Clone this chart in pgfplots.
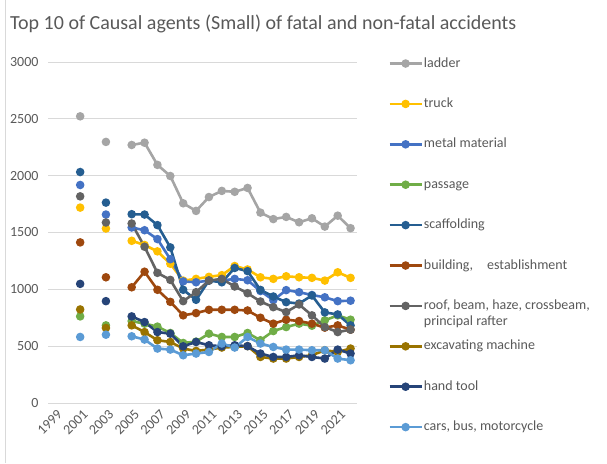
\documentclass[border=0pt]{standalone}
\usepackage{pgfplots}
\pgfplotsset{compat=1.18}
\usepackage{fontspec}
\setmainfont{Carlito}
\definecolor{tx}{HTML}{595959}
\definecolor{gridc}{HTML}{D9D9D9}
\definecolor{cLadder}{HTML}{A5A5A5}
\definecolor{cTruck}{HTML}{FFC000}
\definecolor{cMetal}{HTML}{4472C4}
\definecolor{cPassage}{HTML}{70AD47}
\definecolor{cScaff}{HTML}{255E91}
\definecolor{cBuild}{HTML}{9E480E}
\definecolor{cRoof}{HTML}{636363}
\definecolor{cExc}{HTML}{997300}
\definecolor{cHand}{HTML}{264478}
\definecolor{cCars}{HTML}{5B9BD5}
\begin{document}
\begin{tikzpicture}[x=1pt,y=1pt]
\path[use as bounding box] (0,0) rectangle (607,463);
\draw[color=gridc, line width=0.75pt] (5.5,0) -- (5.5,463);
\node[anchor=base west, inner sep=0pt, font=\fontsize{20}{24}\selectfont, text=tx] at (10,433) {Top 10 of Causal agents (Small) of fatal and non-fatal accidents};
\begin{axis}[
  at={(48pt,60pt)}, anchor=south west,
  width=309pt, height=341pt, scale only axis,
  xmin=1998.5, xmax=2022.5, ymin=0, ymax=3000,
  xtick={1999,2001,...,2021}, ytick={0,500,...,3000},
  axis line style={draw=none}, tick style={draw=none},
  ymajorgrids, grid style={color=gridc, line width=0.75pt},
  unbounded coords=jump,
  /pgf/number format/assume math mode=true,
  /pgf/number format/1000 sep={},
  ticklabel style={font=\fontsize{14}{17}\selectfont, text=tx},
  yticklabel style={xshift=-6pt},
  xticklabel style={rotate=45, anchor=east, xshift=1pt, yshift=-10pt},
  every axis plot/.append style={line width=2.6pt, mark=*, mark size=2.9pt, mark options={solid}},
  legend image code/.code={\draw[mark repeat=2,mark phase=2,#1] plot coordinates {(0pt,0pt) (16pt,0pt) (32pt,0pt)};},
  legend cell align=left,
  legend style={at={(1.091,1.024)}, anchor=north west, draw=none, fill=none,
    font=\fontsize{14}{16}\selectfont, text=tx, row sep=25.4pt,
    nodes={inner sep=1pt, text height=10pt, text depth=3pt}},
]
\addplot[color=cLadder] coordinates {(2001,2522)(2002,nan)(2003,2297)(2004,nan)(2005,2270)(2006,2290)(2007,2095)(2008,1997)(2009,1757)(2010,1690)(2011,1812)(2012,1866)(2013,1858)(2014,1892)(2015,1675)(2016,1618)(2017,1637)(2018,1590)(2019,1625)(2020,1552)(2021,1648)(2022,1538)};
\addlegendentry{ladder}
\addplot[color=cTruck] coordinates {(2001,1719)(2002,nan)(2003,1535)(2004,nan)(2005,1427)(2006,1390)(2007,1334)(2008,1225)(2009,1077)(2010,1092)(2011,1110)(2012,1125)(2013,1205)(2014,1175)(2015,1106)(2016,1092)(2017,1115)(2018,1106)(2019,1101)(2020,1077)(2021,1150)(2022,1101)};
\addlegendentry{truck}
\addplot[color=cMetal] coordinates {(2001,1918)(2002,nan)(2003,1658)(2004,nan)(2005,1544)(2006,1520)(2007,1442)(2008,1265)(2009,1070)(2010,1062)(2011,1077)(2012,1077)(2013,1092)(2014,1080)(2015,985)(2016,905)(2017,993)(2018,975)(2019,950)(2020,930)(2021,896)(2022,900)};
\addlegendentry{metal material}
\addplot[color=cPassage] coordinates {(2001,762)(2002,nan)(2003,683)(2004,nan)(2005,721)(2006,698)(2007,672)(2008,616)(2009,528)(2010,540)(2011,610)(2012,581)(2013,581)(2014,616)(2015,552)(2016,633)(2017,668)(2018,698)(2019,680)(2020,727)(2021,771)(2022,733)};
\addlegendentry{passage}
\addplot[color=cScaff] coordinates {(2001,2032)(2002,nan)(2003,1763)(2004,nan)(2005,1661)(2006,1658)(2007,1565)(2008,1369)(2009,996)(2010,908)(2011,1077)(2012,1062)(2013,1188)(2014,1160)(2015,995)(2016,937)(2017,887)(2018,875)(2019,946)(2020,797)(2021,779)(2022,683)};
\addlegendentry{scaffolding}
\addplot[color=cBuild] coordinates {(2001,1413)(2002,nan)(2003,1106)(2004,nan)(2005,1018)(2006,1155)(2007,996)(2008,890)(2009,771)(2010,791)(2011,820)(2012,820)(2013,820)(2014,814)(2015,750)(2016,698)(2017,733)(2018,721)(2019,698)(2020,663)(2021,683)(2022,645)};
\addlegendentry{building,\hspace{14pt}establishment}
\addplot[color=cRoof] coordinates {(2001,1818)(2002,nan)(2003,1588)(2004,nan)(2005,1579)(2006,1375)(2007,1145)(2008,1083)(2009,896)(2010,975)(2011,1077)(2012,1092)(2013,1025)(2014,966)(2015,893)(2016,843)(2017,800)(2018,867)(2019,771)(2020,668)(2021,624)(2022,645)};
\addlegendentry{\smash{\begin{tabular}[t]{@{}l@{}}roof, beam, haze, crossbeam,\\principal rafter\end{tabular}}}
\addplot[color=cExc] coordinates {(2001,823)(2002,nan)(2003,660)(2004,nan)(2005,683)(2006,624)(2007,552)(2008,537)(2009,479)(2010,458)(2011,470)(2012,488)(2013,493)(2014,500)(2015,405)(2016,391)(2017,391)(2018,405)(2019,420)(2020,464)(2021,449)(2022,479)};
\addlegendentry{excavating machine}
\addplot[color=cHand] coordinates {(2001,1048)(2002,nan)(2003,896)(2004,nan)(2005,762)(2006,712)(2007,624)(2008,610)(2009,499)(2010,537)(2011,508)(2012,499)(2013,508)(2014,500)(2015,435)(2016,405)(2017,405)(2018,420)(2019,405)(2020,391)(2021,470)(2022,435)};
\addlegendentry{hand tool}
\addplot[color=cCars] coordinates {(2001,581)(2002,nan)(2003,601)(2004,nan)(2005,587)(2006,558)(2007,479)(2008,470)(2009,420)(2010,435)(2011,449)(2012,523)(2013,488)(2014,581)(2015,523)(2016,493)(2017,470)(2018,470)(2019,464)(2020,464)(2021,391)(2022,376)};
\addlegendentry{cars, bus, motorcycle}
\end{axis}
\end{tikzpicture}
\end{document}
